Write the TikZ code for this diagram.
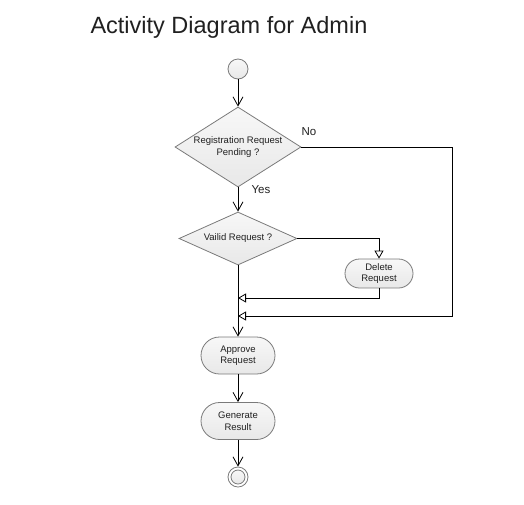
\documentclass[tikz,border=0pt]{standalone}
\usepackage{fontspec}
\setmainfont{Liberation Sans}
\usetikzlibrary{shapes.geometric,shapes.misc,arrows.meta}
\definecolor{bord}{HTML}{7A7A7A}
\definecolor{txt}{HTML}{202020}
\tikzset{
  shp/.style={draw=bord, line width=0.8pt, top color=white!97!black, bottom color=white!91!black},
  act/.style={shp, rounded rectangle, minimum width=74pt, minimum height=37pt, inner sep=0pt},
  dec/.style={shp, diamond, inner sep=0pt},
  lbl/.style={font=\fontsize{9.5}{11.5}\selectfont, text=txt, align=center},
  edgelbl/.style={font=\fontsize{11.5}{13}\selectfont, text=txt},
  flow/.style={draw=black, line width=0.8pt, -{Straight Barb[length=9pt,width=10pt]}},
  merge/.style={draw=black, line width=0.8pt, -{Triangle[open,length=8pt,width=9pt,fill=white]}},
}
\begin{document}
\begin{tikzpicture}[x=1pt,y=-1pt]
\useasboundingbox (0,0) rectangle (524,504);
\node[anchor=west, font=\fontsize{23.5}{26}\selectfont, text=txt] (title) at (87,27) {Activity Diagram for Admin};

\node[shp, circle, minimum size=20pt, inner sep=0pt] (start) at (238,69) {};
\node[dec, minimum width=126pt, minimum height=80pt] (d1) at (238,147) {};
\node[lbl] (d1t) at (238,147) {Registration Request\\Pending ?};
\node[dec, minimum width=118pt, minimum height=53pt] (d2) at (238,238.5) {};
\node[lbl] (d2t) at (238,238.5) {Vailid Request ?};
\node[act, minimum width=68pt, minimum height=29pt] (del) at (379,273.5) {};
\node[lbl] (delt) at (379,273.5) {Delete\\Request};
\node[act] (app) at (238,355.5) {};
\node[lbl] (appt) at (238,355.5) {Approve\\Request};
\node[act] (gen) at (238,421) {};
\node[lbl] (gent) at (238,421) {Generate\\Result};
\node[draw=bord, line width=0.8pt, circle, minimum size=20pt, inner sep=0pt] (end) at (238,477) {};
\node[shp, circle, minimum size=14pt, inner sep=0pt] (endin) at (238,477) {};

\coordinate (m1) at (238,298);
\coordinate (m2) at (238,316);
\coordinate (cR) at (452,147);

\draw[flow] (start) -- (d1.north);
\draw[flow] (d1.south) -- (d2.north);
\draw[merge] (d1.east) -- (cR) |- (m2);
\draw[merge] (d2.east) -| (del.north);
\draw[merge] (del.south) |- (m1);
\draw[flow] (d2.south) -- (app.north);
\draw[flow] (app) -- (gen);
\draw[flow] (gen) -- (end);

\node[edgelbl] (no) at (309,132) {No};
\node[edgelbl] (yes) at (261,190) {Yes};
\end{tikzpicture}
\end{document}
